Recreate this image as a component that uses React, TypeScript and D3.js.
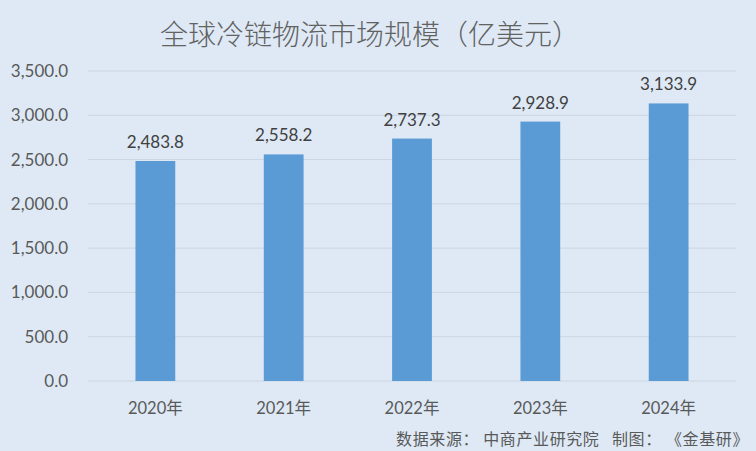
import React, {useEffect, useRef} from "react";
import * as d3 from "d3";

const years = ["2020年", "2021年", "2022年", "2023年", "2024年"];
const marketSize = [2483.8, 2558.2, 2737.3, 2928.9, 3133.9];
const yTicks = [0, 500, 1000, 1500, 2000, 2500, 3000, 3500];

const W = 756;
const H = 451;
const NUM_FONT = "Lato, 'Noto Sans CJK SC', sans-serif";
const CJK_FONT = "'Noto Sans CJK SC', 'Noto Sans', sans-serif";

export default function App() {
  const ref = useRef<SVGSVGElement>(null);

  useEffect(() => {
    document.body.style.margin = "0";
    const svg = d3.select(ref.current);
    svg.selectAll("*").remove();

    const margin = {top: 71, right: 20, bottom: 70, left: 88};

    const x = d3
      .scaleBand()
      .domain(years)
      .range([margin.left, W - margin.right])
      .paddingInner(0.69)
      .paddingOuter(0.37);

    const y = d3
      .scaleLinear()
      .domain([0, 3500])
      .range([H - margin.bottom, margin.top]);

    svg.append("rect").attr("width", W).attr("height", H).attr("fill", "#dee9f5");

    // title
    svg
      .append("text")
      .attr("x", 370)
      .attr("y", 45)
      .attr("text-anchor", "middle")
      .attr("font-family", CJK_FONT)
      .attr("font-size", 28)
      .attr("font-weight", 300)
      .attr("fill", "#626262")
      .text("全球冷链物流市场规模（亿美元）");

    // grid
    svg
      .append("g")
      .selectAll("line")
      .data(yTicks)
      .join("line")
      .attr("x1", margin.left)
      .attr("x2", W - margin.right)
      .attr("y1", (d) => y(d))
      .attr("y2", (d) => y(d))
      .attr("stroke", "#ccd6e1")
      .attr("stroke-width", 1);

    // y labels
    svg
      .append("g")
      .selectAll("text")
      .data(yTicks)
      .join("text")
      .attr("x", 68)
      .attr("y", (d) => y(d))
      .attr("dy", "0.35em")
      .attr("text-anchor", "end")
      .attr("font-family", NUM_FONT)
      .attr("font-size", 17)
      .attr("fill", "#595959")
      .text((d) => d3.format(",.1f")(d));

    // bars
    svg
      .append("g")
      .selectAll("rect")
      .data(marketSize)
      .join("rect")
      .attr("x", (_, i) => x(years[i])!)
      .attr("width", x.bandwidth())
      .attr("y", (d) => y(d))
      .attr("height", (d) => y(0) - y(d))
      .attr("fill", "#5b9bd5");

    // value labels
    svg
      .append("g")
      .selectAll("text")
      .data(marketSize)
      .join("text")
      .attr("x", (_, i) => x(years[i])! + x.bandwidth() / 2)
      .attr("y", (d) => y(d) - 13)
      .attr("text-anchor", "middle")
      .attr("font-family", NUM_FONT)
      .attr("font-size", 17)
      .attr("fill", "#404040")
      .text((d) => d3.format(",.1f")(d));

    // x labels
    svg
      .append("g")
      .selectAll("text")
      .data(years)
      .join("text")
      .attr("x", (d) => x(d)! + x.bandwidth() / 2)
      .attr("y", y(0) + 33)
      .attr("text-anchor", "middle")
      .attr("font-family", NUM_FONT)
      .attr("font-size", 16.5)
      .attr("fill", "#595959")
      .text((d) => d);

    // source
    svg
      .append("text")
      .attr("x", 749)
      .attr("y", 445)
      .attr("text-anchor", "end")
      .attr("font-family", CJK_FONT)
      .attr("font-size", 16)
      .attr("letter-spacing", 0.6)
      .attr("fill", "#595959")
      .style("white-space", "pre")
      .text("数据来源： 中商产业研究院   制图： 《金基研》");
  }, []);

  return <svg ref={ref} width={W} height={H} style={{display: "block"}} />;
}
